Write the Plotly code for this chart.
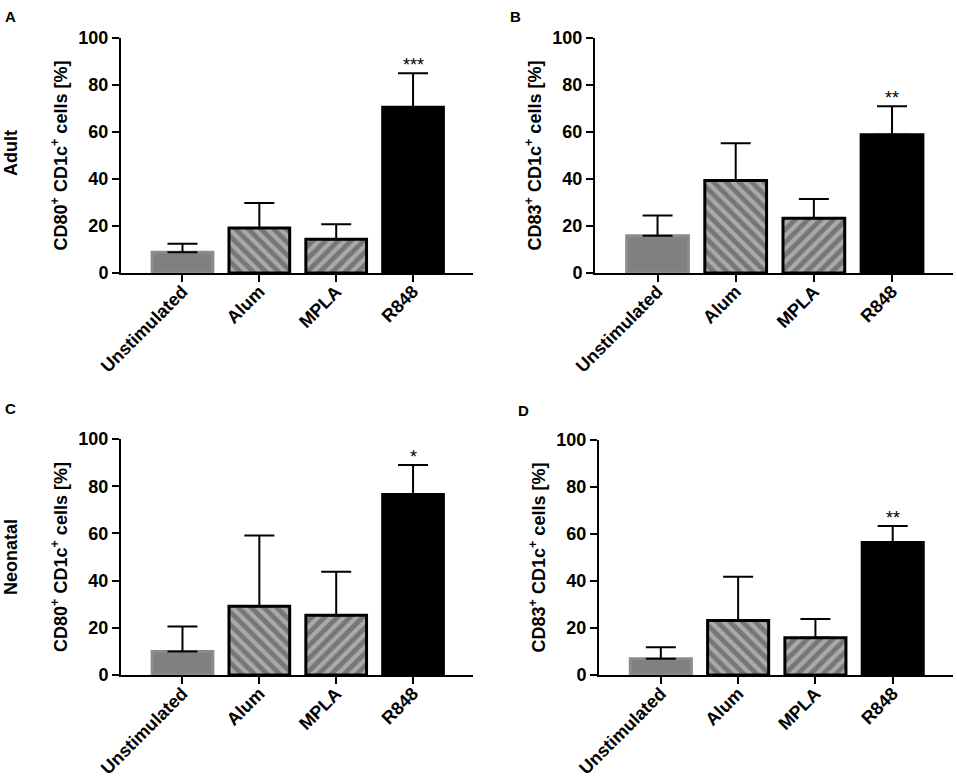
import plotly.graph_objects as go

categories = ["Unstimulated", "Alum", "MPLA", "R848"]

# mean and upper error (SD) per panel
adult_cd80 = [8.8, 19.2, 14.4, 70.5]
adult_cd80_err = [3.6, 10.6, 6.3, 14.5]
adult_cd83 = [15.9, 39.4, 23.3, 58.8]
adult_cd83_err = [8.6, 15.8, 8.2, 12.2]
neo_cd80 = [10.0, 29.1, 25.3, 76.5]
neo_cd80_err = [10.6, 30.0, 18.5, 12.5]
neo_cd83 = [6.9, 23.2, 15.8, 56.4]
neo_cd83_err = [4.9, 18.6, 8.0, 7.0]

stars = ["***", "**", "*", "**"]
panel_letters = ["A", "B", "C", "D"]
row_labels = ["Adult", "Neonatal"]
y_titles = ["CD80<sup>+</sup> CD1c<sup>+</sup> cells [%]",
            "CD83<sup>+</sup> CD1c<sup>+</sup> cells [%]",
            "CD80<sup>+</sup> CD1c<sup>+</sup> cells [%]",
            "CD83<sup>+</sup> CD1c<sup>+</sup> cells [%]"]

panels = [(adult_cd80, adult_cd80_err), (adult_cd83, adult_cd83_err),
          (neo_cd80, neo_cd80_err), (neo_cd83, neo_cd83_err)]

W, H = 957, 778
FONT = "Liberation Sans, Arial, sans-serif"

# plot areas in pixels: (left, right, top, bottom)
boxes = [(121, 473, 38, 273), (595, 953, 38, 273),
         (121, 473, 439, 675), (599, 953, 440, 675)]


def px(x):
    return x / W


def py(y):
    return 1 - y / H


fill = ["#808080", "#aaaaaa", "#aaaaaa", "black"]
edge = ["#8c8c8c", "black", "black", "black"]
shapes_pat = ["", "\\", "/", ""]

fig = go.Figure()
for i, (vals, errs) in enumerate(panels):
    n = "" if i == 0 else str(i + 1)
    fig.add_trace(go.Bar(
        x=categories, y=vals, width=0.79,
        xaxis="x" + n, yaxis="y" + n,
        marker=dict(color=fill, line=dict(color=edge, width=3),
                    pattern=dict(shape=shapes_pat, fgcolor="black",
                                 bgcolor=fill, size=9, solidity=0.55)),
        error_y=dict(type="data", symmetric=False, array=errs,
                     arrayminus=[0] * len(errs), color="black",
                     thickness=2, width=15),
        showlegend=False, hoverinfo="skip"))

    l, r, t, b = boxes[i]
    ax = dict(domain=[px(l), px(r)], anchor="y" + n, type="category",
              range=[-0.8, 3.78], showline=True, linecolor="black",
              linewidth=2, ticks="outside", ticklen=7, tickwidth=2,
              tickcolor="black", tickangle=-45, showgrid=False,
              automargin=False, ticklabelstandoff=-8,
              tickfont=dict(family=FONT, size=18, color="black",
                            weight="bold"))
    ay = dict(domain=[py(b), py(t)], anchor="x" + n,
              range=[0, 100], tickvals=[0, 20, 40, 60, 80, 100],
              showline=True, linecolor="black", linewidth=2,
              ticks="outside", ticklen=7, tickwidth=2, tickcolor="black",
              showgrid=False, zeroline=False, automargin=False,
              tickfont=dict(family=FONT, size=18, color="black",
                            weight="bold"),
              title=dict(text="<b>" + y_titles[i] + "</b>",
                         font=dict(family=FONT, size=18, color="black"),
                         standoff=6))
    fig.layout["xaxis" + n] = ax
    fig.layout["yaxis" + n] = ay

    fig.add_annotation(x=categories[3], y=vals[3] + errs[3],
                       xref="x" + n, yref="y" + n, text=stars[i],
                       showarrow=False, yanchor="bottom", yshift=-4,
                       font=dict(family=FONT, size=18, color="black"))

letter_pos = [(3, 6), (508, 6), (3, 398), (516, 400)]
for letter, (lx, ly) in zip(panel_letters, letter_pos):
    fig.add_annotation(x=px(lx), y=py(ly), xref="paper", yref="paper",
                       text="<b>" + letter + "</b>", showarrow=False,
                       xanchor="left", yanchor="top",
                       font=dict(family=FONT, size=15, color="black"))

for lab, ry in zip(row_labels, [153, 557]):
    fig.add_annotation(x=px(11), y=py(ry), xref="paper", yref="paper",
                       text="<b>" + lab + "</b>", showarrow=False,
                       textangle=-90, xanchor="center", yanchor="middle",
                       font=dict(family=FONT, size=18, color="black"))

fig.update_layout(width=W, height=H, margin=dict(l=0, r=0, t=0, b=0),
                  plot_bgcolor="white", paper_bgcolor="white",
                  font=dict(family=FONT, color="black"))

# drop the browser's default 8px body margin so the figure fills the window
fig.write_html("out.html", config={"displayModeBar": False},
               post_script="document.body.style.margin = '0';")
